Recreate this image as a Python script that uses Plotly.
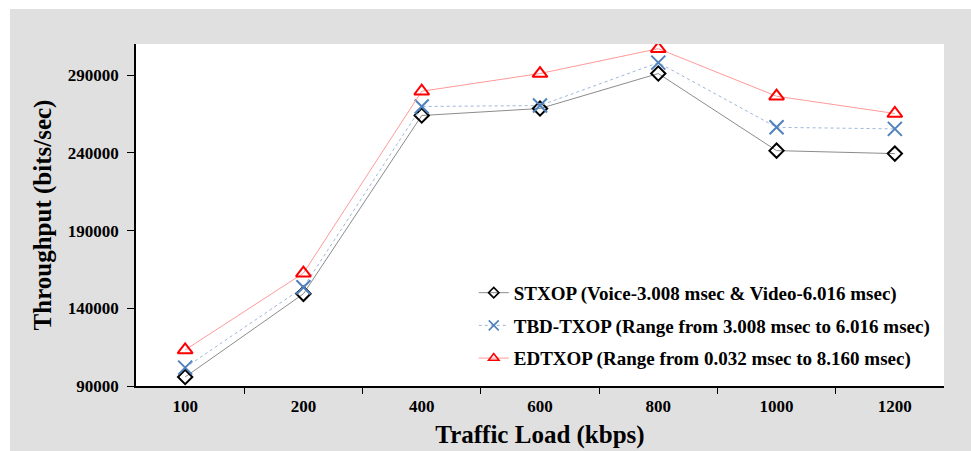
import plotly.graph_objects as go

# traffic load categories (kbps)
loads = ["100", "200", "400", "600", "800", "1000", "1200"]

# throughput values (bits/sec)
stxop = [95800, 149300, 264000, 268500, 291000, 241400, 239500]
tbd_txop = [101800, 153500, 269800, 270400, 298000, 256400, 255400]
edtxop = [113200, 162600, 279600, 291000, 307000, 276400, 265300]

names = [
    "STXOP (Voice-3.008 msec & Video-6.016 msec)",
    "TBD-TXOP (Range from 3.008 msec to 6.016 msec)",
    "EDTXOP (Range from 0.032 msec to 8.160 msec)",
]
y_ticks = [90000, 140000, 190000, 240000, 290000]

FONT = "Liberation Serif"

series = [
    (stxop, names[0], dict(color="#8c8c8c", width=1), "diamond-open", "black", 11, 8),
    (tbd_txop, names[1], dict(color="#9db7d9", width=1, dash="dot"), "x-thin-open", "#4f81bd", 14, 10),
    (edtxop, names[2], dict(color="#ff9a9a", width=1), "triangle-up-open", "#ff0000", 13, 9),
]

fig = go.Figure()

for vals, name, line, symbol, color, size, legend_size in series:
    fig.add_trace(go.Scatter(
        x=loads, y=vals, name=name, mode="lines+markers", showlegend=False,
        line=line, marker=dict(symbol=symbol, size=size, color=color, line=dict(width=2)),
    ))
    # legend entry with the smaller marker the original uses
    fig.add_trace(go.Scatter(
        x=[None], y=[None], name=name, mode="lines+markers", legendgroup=name,
        line=line, marker=dict(symbol=symbol, size=legend_size, color=color, line=dict(width=1.6)),
    ))

# grey frame behind the chart, white plotting area on top of it
fig.add_shape(type="rect", xref="paper", yref="paper", x0=-0.156, x1=1.04, y0=-0.2, y1=1.102,
              fillcolor="#e0e0e0", line=dict(width=0), layer="below")
fig.add_shape(type="rect", xref="paper", yref="paper", x0=0, x1=1, y0=0, y1=1,
              fillcolor="white", line=dict(width=0), layer="below")

fig.update_layout(
    width=971, height=451,
    margin=dict(l=136, r=27, t=44, b=65),
    paper_bgcolor="white", plot_bgcolor="white",
    font=dict(family=FONT, color="black"),
    showlegend=True,
    legend=dict(
        x=0.418, y=0.328, xanchor="left", yanchor="top",
        bgcolor="rgba(0,0,0,0)", tracegroupgap=5,
        font=dict(family=FONT, size=19, weight="bold"),
    ),
)

fig.update_xaxes(
    type="category", categoryorder="array", categoryarray=loads,
    tickson="boundaries", ticks="outside", ticklen=6, tickcolor="black",
    showline=True, linecolor="black", linewidth=1.5, showgrid=False, automargin=False,
    tickfont=dict(family=FONT, size=17, weight="bold"), ticklabelstandoff=4,
    title=dict(text="Traffic Load (kbps)", font=dict(family=FONT, size=25, weight="bold"), standoff=10),
)
fig.update_yaxes(
    range=[90000, 310000], tickvals=y_ticks, tickformat="d", ticks="outside", ticklen=7,
    tickcolor="black", showline=True, linecolor="black", linewidth=1.5, showgrid=False,
    zeroline=False, automargin=False,
    tickfont=dict(family=FONT, size=17, weight="bold"), ticklabelstandoff=5,
    title=dict(text="Throughput (bits/sec)", font=dict(family=FONT, size=25, weight="bold"), standoff=9),
)

# drop the default page margin so the figure sits at the window's corner
fig.write_html("out.html", config={"displayModeBar": False},
               post_script="document.body.style.margin='0';")
